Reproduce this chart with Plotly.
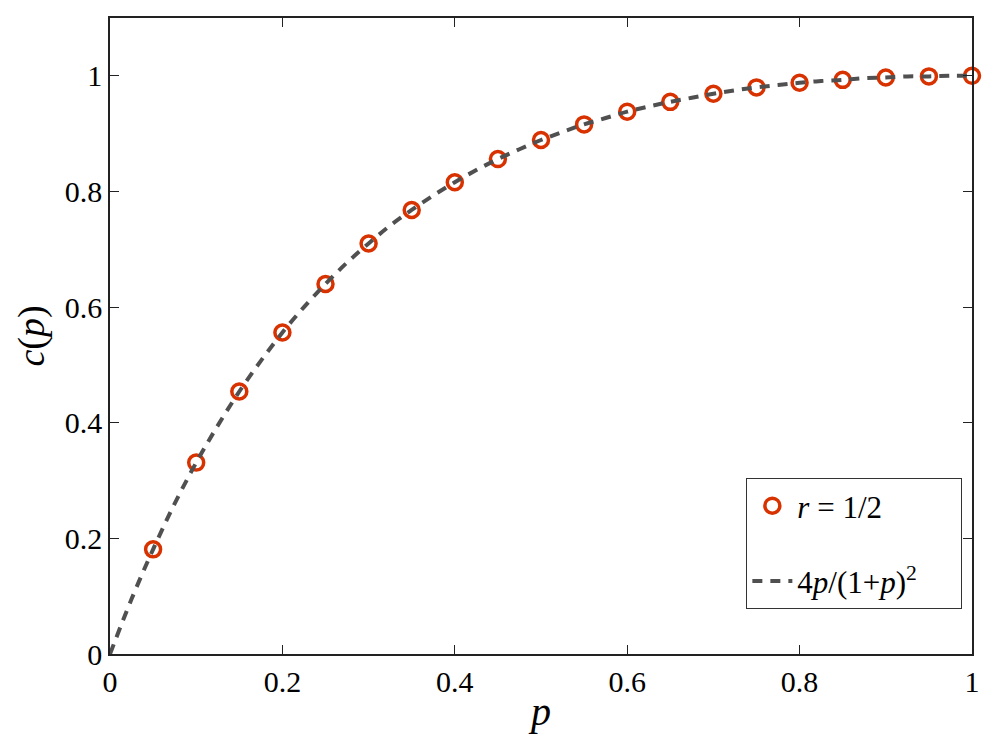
import plotly.graph_objects as go

# Simulation points (r = 1/2)
p_pts = [0.05, 0.10, 0.15, 0.20, 0.25, 0.30, 0.35, 0.40, 0.45, 0.50,
         0.55, 0.60, 0.65, 0.70, 0.75, 0.80, 0.85, 0.90, 0.95, 1.00]
c_pts = [0.181, 0.331, 0.454, 0.556, 0.640, 0.710, 0.768, 0.816, 0.856, 0.889,
         0.916, 0.938, 0.955, 0.969, 0.980, 0.988, 0.993, 0.997, 0.999, 1.000]

# Theory curve 4p/(1+p)^2
p_curve = [0.000, 0.025, 0.050, 0.075, 0.100, 0.125, 0.150, 0.175, 0.200, 0.225,
           0.250, 0.275, 0.300, 0.325, 0.350, 0.375, 0.400, 0.425, 0.450, 0.475,
           0.500, 0.525, 0.550, 0.575, 0.600, 0.625, 0.650, 0.675, 0.700, 0.725,
           0.750, 0.775, 0.800, 0.825, 0.850, 0.875, 0.900, 0.925, 0.950, 0.975, 1.000]
c_curve = [0.000, 0.095, 0.181, 0.260, 0.331, 0.395, 0.454, 0.507, 0.556, 0.600,
           0.640, 0.677, 0.710, 0.741, 0.768, 0.793, 0.816, 0.837, 0.856, 0.873,
           0.889, 0.903, 0.916, 0.927, 0.938, 0.947, 0.955, 0.962, 0.969, 0.975,
           0.980, 0.984, 0.988, 0.991, 0.993, 0.996, 0.997, 0.999, 0.999, 1.000, 1.000]

x_ticks = [0, 0.2, 0.4, 0.6, 0.8, 1]
x_tick_labels = ["0", "0.2", "0.4", "0.6", "0.8", "1"]
y_ticks = [0, 0.2, 0.4, 0.6, 0.8, 1]
y_tick_labels = ["0", "0.2", "0.4", "0.6", "0.8", "1"]

FONT = "Liberation Serif"
RED = "#d83200"
GRAY = "#505050"

fig = go.Figure()
fig.add_trace(go.Scatter(
    x=p_pts, y=c_pts, mode="markers", name="<i>r</i> = 1/2", legendgroup="pts",
    marker=dict(symbol="circle-open", size=15, color=RED, line=dict(width=3.5, color=RED)),
    cliponaxis=False,
))
fig.add_trace(go.Scatter(
    x=p_curve, y=c_curve, mode="lines",
    name="4<i>p</i>/(1+<i>p</i>)<sup>2</sup>&nbsp;&nbsp;&nbsp;&nbsp;&nbsp;", legendgroup="curve",
    line=dict(color=GRAY, width=4, dash="10px,8px", shape="spline"),
))

axis_common = dict(
    showgrid=False, zeroline=False, showline=True, linecolor="#222222", linewidth=1.5,
    mirror="allticks", ticks="inside", ticklen=9, tickwidth=1.2, tickcolor="#222222",
    tickfont=dict(family=FONT, size=30, color="black"),
)

fig.update_layout(
    width=992, height=744,
    margin=dict(l=110, r=20, t=18, b=90),
    paper_bgcolor="white", plot_bgcolor="white",
    xaxis=dict(range=[0, 1], tickvals=x_ticks, ticktext=x_tick_labels,
               title=dict(text="<i>p</i>", font=dict(family=FONT, size=40, color="black"), standoff=0),
               **axis_common),
    yaxis=dict(range=[0, 1.1], tickvals=y_ticks, ticktext=y_tick_labels,
               title=dict(text="<i>c</i>(<i>p</i>)", font=dict(family=FONT, size=38, color="black"), standoff=8),
               **axis_common),
    legend=dict(x=0.738, y=0.277, xanchor="left", yanchor="top",
                bordercolor="#333333", borderwidth=1.2, bgcolor="white",
                font=dict(family=FONT, size=31, color="black"),
                itemwidth=40, tracegroupgap=32),
    showlegend=True,
)

fig.write_html("out.html")
